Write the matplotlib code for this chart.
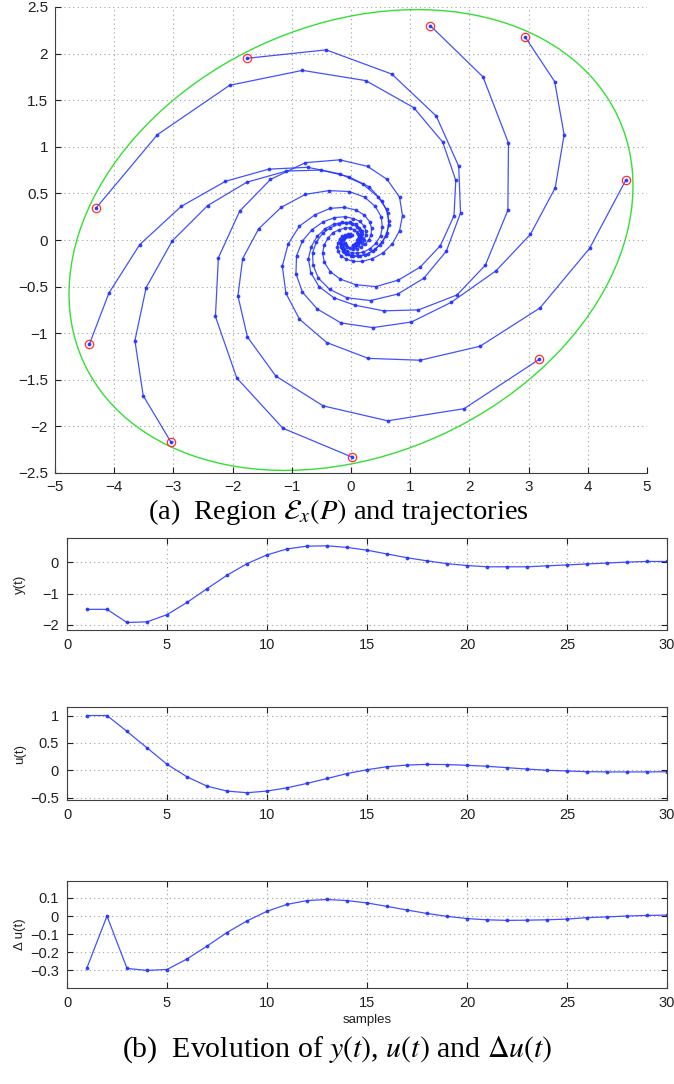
import numpy as np
import matplotlib
matplotlib.use("Agg")
import matplotlib.pyplot as plt
from matplotlib.patches import Ellipse

# ---- state-space trajectories (x1, x2) ----
traj_1 = [(-4.31, 0.34), (-3.27, 1.13), (-2.05, 1.66), (-0.82, 1.82), (0.25, 1.71),
          (1.06, 1.42), (1.55, 1.05), (1.77, 0.64), (1.74, 0.26), (1.51, -0.06),
          (1.17, -0.29), (0.80, -0.43), (0.42, -0.50), (0.08, -0.48), (-0.18, -0.42),
          (-0.35, -0.34), (-0.45, -0.24), (-0.48, -0.14), (-0.45, -0.05), (-0.39, 0.02),
          (-0.30, 0.08), (-0.20, 0.11), (-0.10, 0.13), (-0.02, 0.13), (0.05, 0.11),
          (0.095, 0.09), (0.12, 0.065), (0.13, 0.04), (0.12, 0.015), (0.105, -0.005)]
traj_2 = [(-1.75, 1.95), (-0.42, 2.04), (0.69, 1.78), (1.44, 1.33), (1.82, 0.79),
          (1.85, 0.29), (1.61, -0.12), (1.23, -0.41), (0.79, -0.58), (0.33, -0.65),
          (-0.07, -0.62), (-0.36, -0.53), (-0.55, -0.41), (-0.64, -0.27), (-0.65, -0.14),
          (-0.585, -0.02), (-0.48, 0.07), (-0.35, 0.13), (-0.21, 0.17), (-0.09, 0.18),
          (0.02, 0.17), (0.10, 0.14), (0.15, 0.11), (0.17, 0.07), (0.17, 0.04),
          (0.16, 0.01), (0.13, -0.02), (0.09, -0.035), (0.06, -0.044)]
traj_3 = [(1.34, 2.30), (2.23, 1.75), (2.66, 1.04), (2.65, 0.32), (2.27, -0.27),
          (1.79, -0.59), (1.14, -0.75), (0.55, -0.76), (0.07, -0.70), (-0.29, -0.62),
          (-0.54, -0.50), (-0.68, -0.35), (-0.72, -0.20), (-0.67, -0.07), (-0.57, 0.04),
          (-0.44, 0.12), (-0.29, 0.17), (-0.15, 0.19), (-0.02, 0.19), (0.08, 0.17),
          (0.14, 0.13), (0.18, 0.10), (0.19, 0.06), (0.18, 0.02), (0.15, -0.01),
          (0.12, -0.03), (0.08, -0.05), (0.04, -0.05)]
traj_4 = [(2.94, 2.18), (3.44, 1.70), (3.60, 1.13), (3.45, 0.56), (3.03, 0.06),
          (2.45, -0.33), (1.69, -0.67), (1.02, -0.88), (0.37, -0.94), (-0.17, -0.89),
          (-0.57, -0.74), (-0.82, -0.56), (-0.93, -0.36), (-0.92, -0.17), (-0.82, -0.01),
          (-0.66, 0.11), (-0.47, 0.195), (-0.28, 0.24), (-0.10, 0.25), (0.04, 0.23),
          (0.15, 0.20), (0.22, 0.15), (0.25, 0.10), (0.25, 0.05), (0.22, 0.00),
          (0.18, -0.03), (0.125, -0.05), (0.074, -0.064), (0.027, -0.067)]
traj_5 = [(4.64, 0.64), (4.03, -0.09), (3.19, -0.73), (2.18, -1.14), (1.17, -1.29),
          (0.29, -1.27), (-0.41, -1.10), (-0.87, -0.85), (-1.10, -0.57), (-1.16, -0.28),
          (-1.06, -0.04), (-0.87, 0.15), (-0.61, 0.27), (-0.35, 0.34), (-0.11, 0.35),
          (0.086, 0.321), (0.228, 0.266), (0.314, 0.197), (0.349, 0.124), (0.340, 0.056),
          (0.299, -0.002), (0.238, -0.047), (0.167, -0.077), (0.095, -0.092), (0.030, -0.094),
          (-0.023, -0.086), (-0.061, -0.071), (-0.084, -0.053), (-0.093, -0.033)]
traj_6 = [(3.18, -1.28), (1.91, -1.81), (0.62, -1.94), (-0.47, -1.78), (-1.27, -1.46),
          (-1.75, -1.04), (-1.91, -0.60), (-1.83, -0.20), (-1.56, 0.12), (-1.18, 0.35),
          (-0.77, 0.49), (-0.37, 0.53), (-0.03, 0.52), (0.23, 0.46), (0.41, 0.36),
          (0.51, 0.25), (0.53, 0.14), (0.50, 0.045), (0.42, -0.036), (0.32, -0.094),
          (0.21, -0.13), (0.10, -0.14), (0.01, -0.14), (-0.06, -0.12), (-0.11, -0.10),
          (-0.14, -0.07), (-0.14, -0.04)]
traj_7 = [(0.02, -2.33), (-1.15, -2.02), (-1.93, -1.48), (-2.29, -0.82), (-2.24, -0.19),
          (-1.88, 0.31), (-1.36, 0.65), (-0.77, 0.83), (-0.19, 0.86), (0.28, 0.79),
          (0.61, 0.65), (0.82, 0.46), (0.87, 0.26), (0.82, 0.10), (0.70, -0.04),
          (0.54, -0.14), (0.36, -0.20), (0.19, -0.23), (0.04, -0.23), (-0.08, -0.205),
          (-0.17, -0.17), (-0.22, -0.12), (-0.23, -0.07), (-0.22, -0.03), (-0.19, 0.01),
          (-0.15, 0.04), (-0.10, 0.05), (-0.05, 0.06), (-0.01, 0.06), (0.02, 0.055)]
traj_8 = [(-3.04, -2.17), (-3.51, -1.67), (-3.65, -1.08), (-3.46, -0.51), (-3.02, -0.01),
          (-2.42, 0.37), (-1.76, 0.62), (-1.09, 0.74), (-0.51, 0.75), (-0.04, 0.68),
          (0.31, 0.57), (0.52, 0.42), (0.62, 0.29), (0.64, 0.16), (0.59, 0.04),
          (0.49, -0.05), (0.37, -0.12), (0.24, -0.16), (0.11, -0.175), (0.0, -0.17),
          (-0.085, -0.148), (-0.141, -0.116), (-0.17, -0.08), (-0.176, -0.044), (-0.162, -0.012),
          (-0.135, 0.014), (-0.101, 0.032), (-0.065, 0.043), (-0.031, 0.047)]
traj_9 = [(-4.42, -1.12), (-4.09, -0.57), (-3.57, -0.05), (-2.87, 0.36), (-2.12, 0.63),
          (-1.39, 0.76), (-0.73, 0.78), (-0.19, 0.71), (0.20, 0.60), (0.46, 0.46),
          (0.60, 0.33), (0.64, 0.20), (0.61, 0.08), (0.53, -0.02), (0.41, -0.10),
          (0.28, -0.15), (0.15, -0.17), (0.035, -0.17), (-0.057, -0.153), (-0.121, -0.124),
          (-0.158, -0.09), (-0.171, -0.055), (-0.164, -0.022), (-0.142, 0.005), (-0.111, 0.026),
          (-0.076, 0.039), (-0.041, 0.045), (-0.011, 0.045)]
trajectories = [traj_1, traj_2, traj_3, traj_4, traj_5, traj_6, traj_7, traj_8, traj_9]

# invariant ellipse E_x(P): semi-axes and tilt (deg)
ellipse_semi_axes = (4.81, 2.38)
ellipse_angle = 9.2

# ---- time responses ----
samples = list(range(1, 31))
y_t = [-1.50, -1.50, -1.92, -1.90, -1.67, -1.28, -0.84, -0.41, -0.04, 0.24,
       0.43, 0.52, 0.53, 0.48, 0.39, 0.27, 0.15, 0.05, -0.04, -0.10,
       -0.14, -0.14, -0.14, -0.11, -0.08, -0.05, -0.02, 0.01, 0.03, 0.03]
u_t = [1.00, 1.00, 0.71, 0.41, 0.11, -0.12, -0.29, -0.38, -0.41, -0.38,
       -0.32, -0.24, -0.15, -0.06, 0.01, 0.065, 0.095, 0.108, 0.104, 0.091,
       0.073, 0.048, 0.022, 0.0, -0.013, -0.026, -0.030, -0.030, -0.030, -0.026]
du_t = [-0.285, 0.0, -0.289, -0.300, -0.295, -0.237, -0.166, -0.091, -0.027, 0.026,
        0.064, 0.085, 0.091, 0.085, 0.072, 0.053, 0.033, 0.014, -0.002, -0.014,
        -0.021, -0.024, -0.023, -0.021, -0.017, -0.009, -0.005, 0.0, 0.003, 0.005]

plt.rcParams['font.family'] = ['Liberation Sans', 'DejaVu Sans']
plt.rcParams['mathtext.fontset'] = 'stix'

BLUE = '#2233ff'
GRID = dict(color='#a0a0a0', linestyle=(0, (1, 3)), linewidth=0.8)
W, H = 674, 1084


def box(l, t, r, b):
    return [l / W, 1 - b / H, (r - l) / W, (b - t) / H]


fig = plt.figure(figsize=(W / 100, H / 100), dpi=100)

# ---------------- (a) phase plane ----------------
ax = fig.add_axes(box(55, 7, 647, 473))
ell = Ellipse((0, 0), 2 * ellipse_semi_axes[0], 2 * ellipse_semi_axes[1],
              angle=ellipse_angle, fill=False, edgecolor='#33e033', lw=1.0)
ax.add_patch(ell)
for tr in trajectories:
    xs, ys = zip(*tr)
    ax.plot(xs, ys, '-', color=BLUE, lw=0.9, marker='.', ms=3.5, alpha=0.85)
    ax.plot(xs[0], ys[0], 'o', mfc='none', mec='#ff3030', ms=6, mew=0.9)
ax.set_xlim(-5, 5)
ax.set_ylim(-2.5, 2.5)
ax.set_xticks(np.arange(-5, 6, 1))
ax.set_yticks(np.arange(-2.5, 2.6, 0.5))
ax.set_yticklabels(['−2.5', '−2', '−1.5', '−1', '−0.5', '0', '0.5', '1', '1.5', '2', '2.5'])
ax.set_xticklabels(['−5', '−4', '−3', '−2', '−1', '0', '1', '2', '3', '4', '5'])
ax.grid(True, **GRID)
ax.spines['top'].set_visible(False)
ax.spines['right'].set_visible(False)
for s in ('left', 'bottom'):
    ax.spines[s].set_color('#404040')
    ax.spines[s].set_linewidth(0.8)
ax.tick_params(direction='in', length=4, labelsize=11, colors='#202020', pad=5)

fig.text(338 / W, 1 - 512 / H, r'(a)  Region $\mathcal{E}_x(P)$ and trajectories',
         ha='center', va='center', fontsize=20.5, family=['Liberation Serif', 'DejaVu Serif'])

# ---------------- (b) time responses ----------------
panels = [
    (y_t, 'y(t)', (538, 630), (-2.16, 0.78), [-2, -1, 0], ['−2', '−1', '0']),
    (u_t, 'u(t)', (707, 800), (-0.543, 1.156), [-0.5, 0, 0.5, 1], ['−0.5', '0', '0.5', '1']),
    (du_t, 'Δ u(t)', (881, 988), (-0.397, 0.193), [-0.3, -0.2, -0.1, 0, 0.1],
     ['−0.3', '−0.2', '−0.1', '0', '0.1']),
]
for i, (vals, lab, (top, bot), ylim, yt, ytl) in enumerate(panels):
    a = fig.add_axes(box(67, top, 667, bot))
    a.plot(samples, vals, '-', color=BLUE, lw=0.9, marker='.', ms=3.5, alpha=0.85)
    a.set_xlim(0, 30)
    a.set_ylim(*ylim)
    a.set_xticks(range(0, 31, 5))
    a.set_yticks(yt)
    a.set_yticklabels(ytl)
    a.grid(True, **GRID)
    for s in a.spines.values():
        s.set_color('#404040')
        s.set_linewidth(0.8)
    a.tick_params(direction='in', length=4, labelsize=10.5, colors='#202020',
                  top=True, right=True, pad=6)
    fig.text(20 / W, 1 - (top + bot) / 2 / H, lab, rotation=90, ha='center', va='center',
             fontsize=9.5, color='#202020')
    if i == 2:
        a.set_xlabel('samples', fontsize=9.5, color='#202020', labelpad=3)

fig.text(337 / W, 1 - 1050 / H, r'(b)  Evolution of $y(t)$, $u(t)$ and $\Delta u(t)$',
         ha='center', va='center', fontsize=21.5, family=['Liberation Serif', 'DejaVu Serif'])

fig.savefig('out.png', dpi=100)
